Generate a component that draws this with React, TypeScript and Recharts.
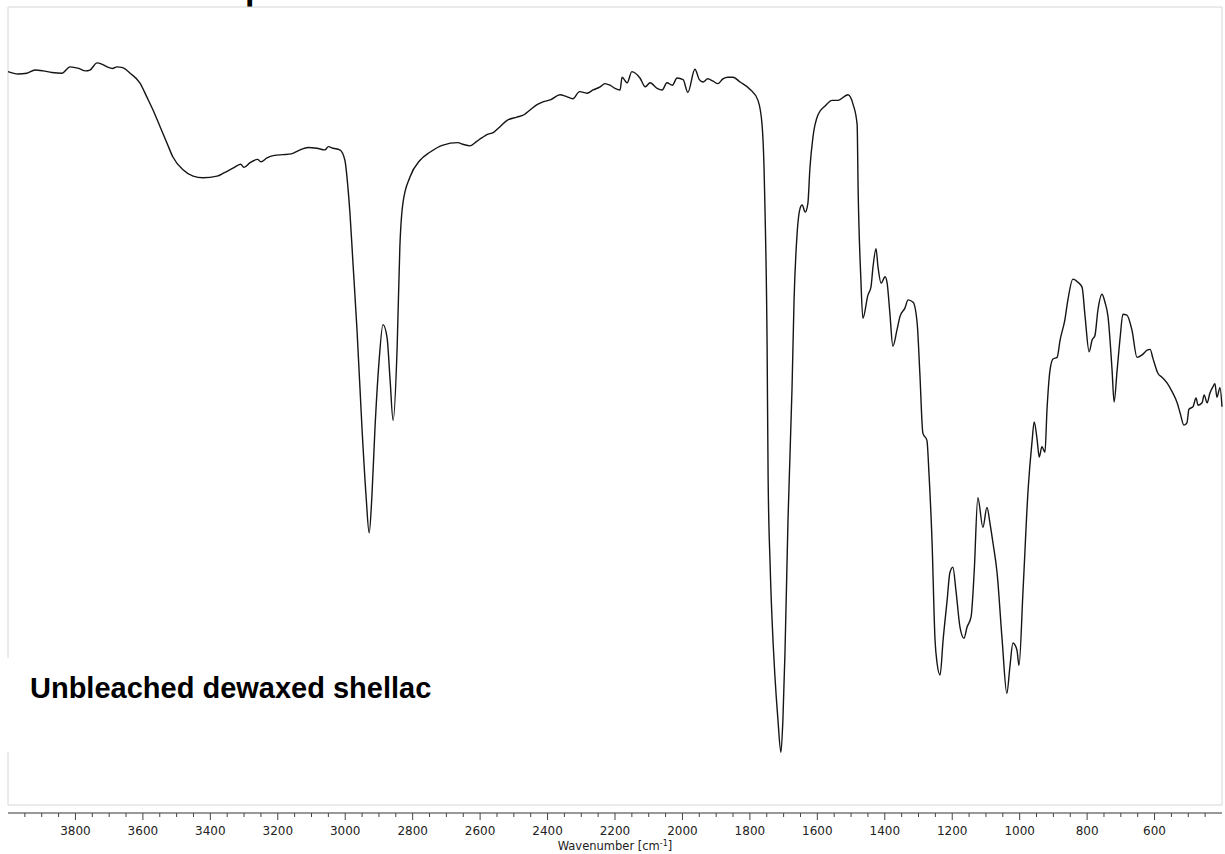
import React from "react";
import { LineChart, Line, XAxis, YAxis, ReferenceArea } from "recharts";

// wavenumber (cm-1) from left to right
const wavenumbers = [
  4000, 3970, 3944, 3920, 3896, 3870, 3840, 3816, 3790, 3770,
  3757, 3736, 3720, 3706, 3690, 3677, 3660, 3638, 3609, 3588,
  3570, 3549, 3529, 3511, 3481, 3451, 3422, 3380, 3360, 3333,
  3310, 3300, 3282, 3260, 3250, 3232, 3210, 3185, 3160, 3134,
  3110, 3084, 3060, 3050, 3036, 3016, 3001, 2992, 2986, 2977,
  2965, 2950, 2938, 2929, 2921, 2912, 2900, 2888, 2876, 2867,
  2858, 2846, 2838, 2829, 2808, 2778, 2749, 2710, 2666, 2651,
  2630, 2609, 2595, 2580, 2560, 2541, 2520, 2491, 2470, 2452,
  2430, 2414, 2390, 2363, 2345, 2325, 2305, 2283, 2265, 2244,
  2230, 2215, 2200, 2185, 2179, 2164, 2150, 2126, 2110, 2096,
  2075, 2060, 2046, 2030, 2016, 1998, 1984, 1963, 1950, 1939,
  1925, 1909, 1895, 1880, 1865, 1850, 1829, 1800, 1776, 1764,
  1758, 1755, 1749, 1746, 1740, 1731, 1726, 1717, 1708, 1702,
  1696, 1687, 1675, 1669, 1660, 1651, 1645, 1636, 1628, 1622,
  1613, 1598, 1577, 1556, 1539, 1509, 1494, 1482, 1479, 1471,
  1465, 1450, 1441, 1435, 1426, 1420, 1411, 1399, 1393, 1385,
  1376, 1364, 1355, 1340, 1331, 1316, 1304, 1296, 1287, 1275,
  1269, 1260, 1251, 1245, 1236, 1227, 1215, 1207, 1198, 1189,
  1177, 1165, 1156, 1144, 1135, 1124, 1109, 1097, 1088, 1079,
  1067, 1052, 1038, 1029, 1020, 1008, 1002, 990, 975, 963,
  957, 948, 942, 934, 925, 919, 910, 901, 889, 880,
  866, 857, 842, 827, 815, 806, 794, 785, 777, 768,
  756, 747, 738, 726, 720, 711, 702, 694, 682, 667,
  652, 637, 622, 613, 605, 590, 578, 563, 548, 533,
  524, 513, 504, 498, 486, 477, 471, 459, 453, 444,
  436, 427, 421, 415, 406, 400,
];

// transmittance (%), same order
const transmittance = [
  91.9, 91.6, 91.7, 92.1, 92.0, 91.8, 91.7, 92.5, 92.3, 92.0,
  92.1, 93.0, 92.8, 92.5, 92.3, 92.5, 92.4, 91.7, 90.5, 88.7,
  87.1, 85.0, 83.0, 81.2, 79.6, 78.8, 78.6, 78.8, 79.2, 79.8,
  80.3, 79.9, 80.5, 80.9, 80.6, 81.1, 81.4, 81.5, 81.6, 82.1,
  82.4, 82.3, 82.1, 82.5, 82.3, 82.1, 80.8, 77.4, 74.2, 67.9,
  59.5, 47.0, 38.6, 34.1, 38.6, 47.0, 55.4, 60.2, 58.6, 53.3,
  48.2, 57.4, 69.9, 75.4, 78.7, 80.8, 81.8, 82.7, 83.0, 82.8,
  82.6, 83.2, 83.6, 84.0, 84.3, 85.0, 85.8, 86.2, 86.5, 87.1,
  87.8, 88.1, 88.4, 89.0, 88.8, 88.5, 89.4, 89.2, 89.6, 90.0,
  90.4, 90.2, 89.8, 89.6, 91.2, 90.5, 91.9, 91.1, 90.0, 90.5,
  89.8, 89.6, 90.5, 90.2, 91.1, 90.9, 89.3, 92.2, 90.9, 90.6,
  91.0, 90.7, 90.4, 91.0, 91.2, 91.2, 90.6, 89.7, 88.3, 85.3,
  79.8, 74.3, 57.8, 41.2, 30.1, 20.2, 16.3, 10.8, 6.6, 10.8,
  19.0, 35.7, 52.3, 63.3, 71.6, 74.8, 75.2, 74.3, 75.4, 79.8,
  83.7, 86.5, 87.6, 88.3, 88.3, 89.0, 87.8, 85.3, 77.1, 66.0,
  61.0, 63.9, 64.9, 67.4, 69.7, 67.4, 65.4, 66.2, 65.4, 61.7,
  57.5, 59.5, 61.2, 62.3, 63.3, 63.0, 60.4, 54.1, 46.6, 45.7,
  41.6, 33.2, 20.7, 17.8, 16.3, 20.7, 25.7, 29.1, 29.8, 26.9,
  22.3, 20.9, 22.3, 23.6, 29.1, 38.5, 34.8, 37.3, 35.3, 32.8,
  29.1, 20.7, 14.0, 17.3, 20.3, 19.4, 17.5, 26.9, 39.5, 45.7,
  48.0, 45.7, 43.6, 44.9, 44.2, 49.5, 54.5, 55.9, 56.1, 58.3,
  60.8, 63.3, 65.9, 65.5, 64.9, 61.2, 56.8, 58.3, 58.8, 62.0,
  64.0, 63.0, 61.2, 54.5, 50.5, 54.5, 58.6, 61.5, 61.4, 59.5,
  56.1, 56.4, 57.0, 57.1, 56.0, 54.1, 53.6, 52.9, 51.8, 50.4,
  49.1, 47.6, 47.9, 49.6, 49.9, 51.0, 50.1, 50.4, 51.4, 50.4,
  51.6, 52.4, 52.8, 51.1, 52.3, 49.9,
];

const labelledTicks = [3800, 3600, 3400, 3200, 3000, 2800, 2600, 2400, 2200, 2000, 1800, 1600, 1400, 1200, 1000, 800, 600];
const allTicks = Array.from({ length: 71 }, (_, i) => 450 + i * 50);

const data = wavenumbers.map((wn, i) => ({ wn, t: transmittance[i] }));

const font = "'DejaVu Sans', Verdana, sans-serif";

const WaveTick = (props: any) => {
  const { x, y, payload } = props;
  const major = labelledTicks.includes(payload.value);
  return (
    <g>
      <line x1={x} x2={x} y1={y} y2={y + (major ? 7 : 4)} stroke="#444" strokeWidth={1} />
      {major && (
        <text x={x} y={y + 22} textAnchor="middle" fontSize={12} fontFamily={font} fill="#222">
          {payload.value}
        </text>
      )}
    </g>
  );
};

const AxisTitle = (props: any) => {
  const { viewBox } = props;
  return (
    <text
      x={viewBox.x + viewBox.width / 2}
      y={viewBox.y + 37}
      textAnchor="middle"
      fontSize={11.5}
      fontFamily={font}
      fill="#222"
    >
      Wavenumber [cm<tspan dy={-4} fontSize={8}>-1</tspan>
      <tspan dy={4}>]</tspan>
    </text>
  );
};

export default function App() {
  return (
    <div style={{ position: "absolute", left: 0, top: 0, width: 1225, height: 854, background: "#fff" }}>
      <div
        style={{
          position: "absolute",
          left: 0,
          top: -31,
          width: 347,
          textAlign: "right",
          font: "bold 34px 'Liberation Sans', Arial, sans-serif",
          color: "#000",
          whiteSpace: "nowrap",
        }}
      >
        FTIR Spectra
      </div>
      <LineChart width={1225} height={854} data={data} margin={{ top: 7, right: 3, left: 8, bottom: 0 }}>
        <XAxis
          dataKey="wn"
          type="number"
          domain={[400, 4000]}
          reversed
          ticks={allTicks}
          interval={0}
          tick={<WaveTick />}
          tickLine={false}
          tickSize={0}
          tickMargin={0}
          axisLine={{ stroke: "#333", strokeWidth: 1 }}
          height={41}
          label={<AxisTitle />}
        />
        <YAxis hide domain={[-1, 100]} />
        <ReferenceArea x1={4000} x2={400} y1={0} y2={100} fill="none" stroke="#d6d6d6" strokeWidth={1} />
        <Line
          type="monotone"
          dataKey="t"
          stroke="#151515"
          strokeWidth={1.4}
          dot={false}
          isAnimationActive={false}
        />
      </LineChart>
      <div
        style={{
          position: "absolute",
          left: 0,
          top: 658,
          width: 450,
          height: 94,
          background: "#fff",
        }}
      />
      <div
        style={{
          position: "absolute",
          left: 30,
          top: 672,
          font: "bold 29px 'Liberation Sans', Arial, sans-serif",
          color: "#000",
          whiteSpace: "nowrap",
        }}
      >
        Unbleached dewaxed shellac
      </div>
    </div>
  );
}
